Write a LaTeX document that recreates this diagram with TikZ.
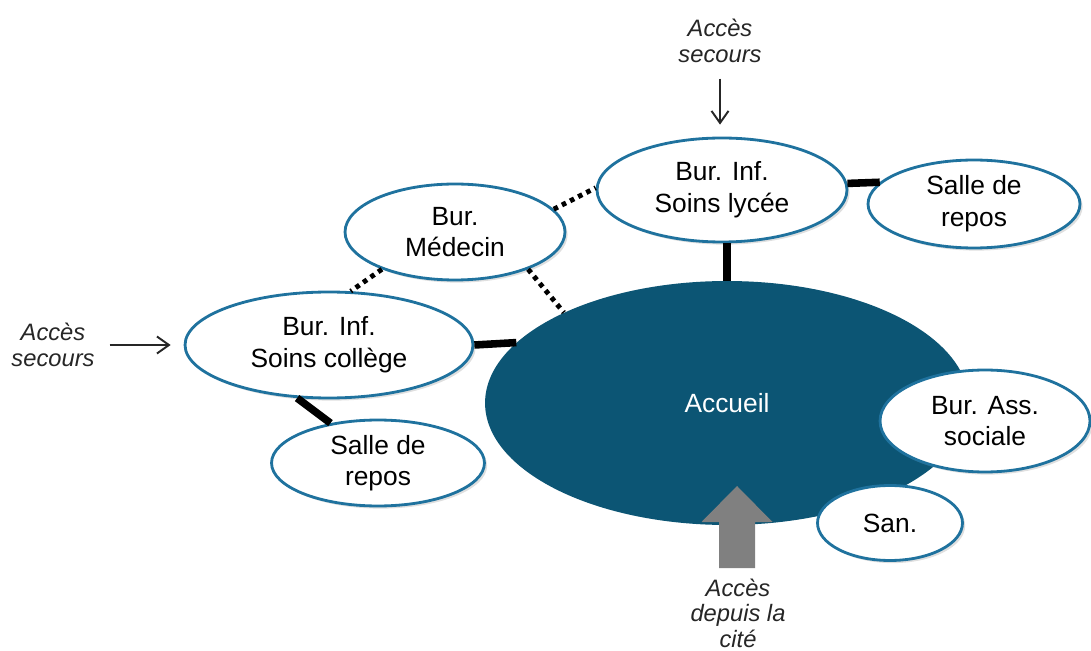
\documentclass[tikz,border=0pt]{standalone}
\usepackage{fontspec}
\setmainfont{Liberation Sans}
\usetikzlibrary{positioning, arrows.meta, shapes.geometric, shadows}
\definecolor{petrole}{HTML}{0C5574}
\definecolor{bordure}{HTML}{1F729E}
\definecolor{gris}{HTML}{808080}
\definecolor{encre}{HTML}{262626}

\begin{document}
\begin{tikzpicture}[
  x=0.02cm, y=-0.02cm,
  bulle/.style={
    ellipse, inner sep=0pt, align=center,
    font=\fontsize{15}{18}\selectfont
  },
  piece/.style={
    bulle, draw=bordure, line width=1.6pt, fill=white, text=black,
    drop shadow={shadow xshift=1.5pt, shadow yshift=-1.5pt, opacity=0.25}
  },
  lien/.style={line width=4.3pt, draw=black},
  pointille/.style={line width=2.8pt, dash pattern=on 2.6pt off 2.6pt, draw=black},
  acces/.style={
    font=\fontsize{13.5}{14.5}\selectfont\itshape,
    align=center, inner sep=1pt, text=encre
  },
  arr/.style={-{Straight Barb[length=2.4mm, width=3.4mm]}, line width=1.1pt, draw=encre}
]

%% page: 1091 x 651 px, 1 unit = 1 px
\useasboundingbox (0,0) rectangle (1091,651);

%% ─── CENTRE: ACCUEIL ─────────────────────────────────────────────────────
\node[bulle, fill=petrole, text=white, minimum width=9.68cm, minimum height=4.88cm]
  (accueil) at (727,403) {Accueil};

%% ─── BUREAUX ─────────────────────────────────────────────────────────────
\node[piece, minimum width=5.0cm, minimum height=2.08cm]
  (lycee) at (722,190) {Bur. Inf.\\Soins lycée};

\node[piece, minimum width=4.24cm, minimum height=1.76cm]
  (reposH) at (974,204) {Salle de\\repos};

\node[piece, minimum width=4.4cm, minimum height=1.92cm]
  (medecin) at (455,232) {Bur.\\Médecin};

\node[piece, minimum width=5.76cm, minimum height=2.12cm]
  (college) at (329,345) {Bur. Inf.\\Soins collège};

\node[piece, minimum width=4.26cm, minimum height=1.72cm]
  (reposB) at (378,463) {Salle de\\repos};

\node[piece, minimum width=4.2cm, minimum height=2.04cm]
  (social) at (985,421) {Bur. Ass.\\sociale};

\node[piece, minimum width=2.9cm, minimum height=1.5cm]
  (san) at (890,523) {San.};

%% ─── LIAISONS ────────────────────────────────────────────────────────────
\draw[lien] (accueil.north) -- (accueil.north |- lycee.south);
\draw[lien] (lycee.3) -- (reposH.167);
\draw[lien] (college.east) -- (accueil.164);
\draw[lien] (college.239) -- (reposB.140);

\draw[pointille] (medecin.13) -- (lycee.179);
\draw[pointille] (medecin.207) -- (college.68);
\draw[pointille] (medecin.333) -- (accueil.151);

%% ─── ACCES ───────────────────────────────────────────────────────────────
\node[acces] (secH) at (720,41) {Accès\\secours};
\node[acces] (secG) at (53,345) {Accès\\secours};
\node[acces] (cite) at (738,613) {Accès\\depuis la\\cité};

\draw[arr, shorten <=0.28cm, shorten >=0.24cm] (secH.south) -- (secH.south |- lycee.north);
\draw[arr, shorten <=0.26cm, shorten >=0.26cm] (secG.east) -- (college.west);

%% grosse flèche grise depuis la cité
\coordinate (pied) at (737,568);
\fill[gris] (pied) ++(-18,0) -- ++(0,-46) -- ++(-17.5,0) -- ++(35.5,-36)
  -- ++(35.5,36) -- ++(-17.5,0) -- ++(0,46) -- cycle;

\end{tikzpicture}
\end{document}
